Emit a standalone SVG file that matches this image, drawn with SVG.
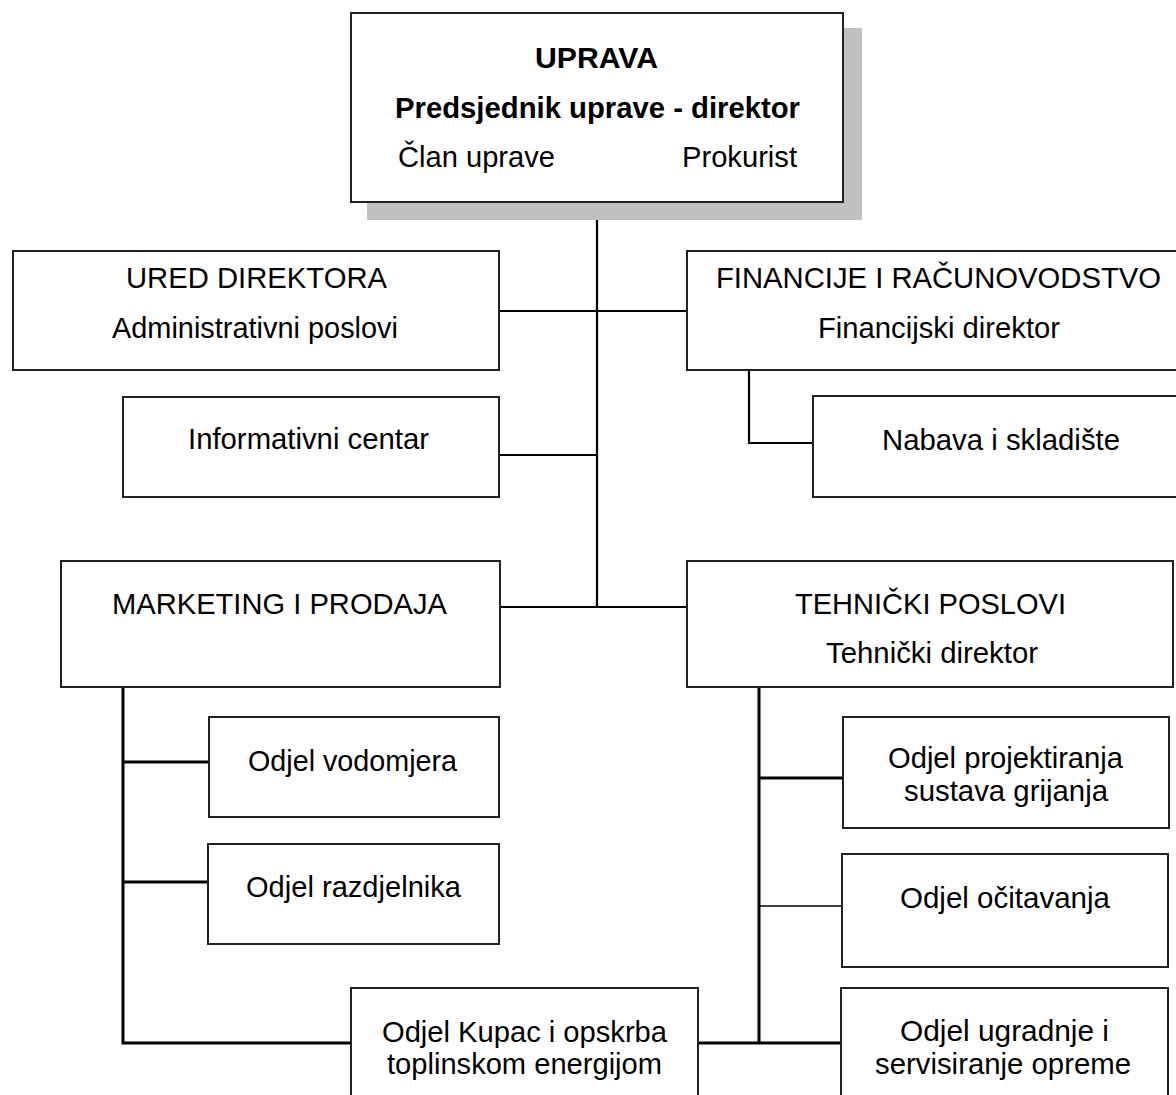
<svg xmlns="http://www.w3.org/2000/svg" width="1176" height="1095" viewBox="0 0 1176 1095">
<style>
.box{fill:#fff;stroke:#222;stroke-width:2}
.t{font-family:"Liberation Sans",Arial,sans-serif;font-size:29px;fill:#000}
.b{font-weight:bold}
.c{fill:none;stroke:#000;stroke-width:2.2}
.c3{fill:none;stroke:#000;stroke-width:3}
.thin{fill:none;stroke:#000;stroke-width:1.3}
</style>
<rect width="1176" height="1095" fill="#fff"/>
<g id="connectors">
<path class="c" d="M597 202 V607"/>
<path class="c" d="M499 311 H687"/>
<path class="c" d="M499 455 H597"/>
<path class="c" d="M500 607 H687"/>
<path class="c" d="M749 370 V443 H813"/>
<path class="c3" d="M123 687 V1043 H351"/>
<path class="c3" d="M123 762 H209"/>
<path class="c3" d="M123 882 H208"/>
<path class="c3" d="M759 687 V1043"/>
<path class="c3" d="M759 778 H843"/>
<path class="thin" d="M759 906 H842"/>
<path class="c3" d="M698 1043 H841"/>
</g>
<g id="uprava">
<rect x="367" y="28" width="495" height="192" fill="#c0c0c0"/>
<rect class="box" x="351" y="13" width="492" height="189"/>
<text class="t b" x="535" y="68" textLength="123" lengthAdjust="spacingAndGlyphs">UPRAVA</text>
<text class="t b" x="395" y="118" textLength="405" lengthAdjust="spacingAndGlyphs">Predsjednik uprave - direktor</text>
<text class="t" x="398" y="167" textLength="157" lengthAdjust="spacingAndGlyphs">Član uprave</text>
<text class="t" x="682" y="167" textLength="115" lengthAdjust="spacingAndGlyphs">Prokurist</text>
</g>
<g id="ured">
<rect class="box" x="13" y="251" width="486" height="119"/>
<text class="t" x="126" y="288" textLength="261" lengthAdjust="spacingAndGlyphs">URED DIREKTORA</text>
<text class="t" x="112" y="338" textLength="286" lengthAdjust="spacingAndGlyphs">Administrativni poslovi</text>
</g>
<g id="financije">
<rect class="box" x="687" y="251" width="504" height="119"/>
<text class="t" x="716" y="288" textLength="445" lengthAdjust="spacingAndGlyphs">FINANCIJE I RAČUNOVODSTVO</text>
<text class="t" x="818" y="338" textLength="242" lengthAdjust="spacingAndGlyphs">Financijski direktor</text>
</g>
<g id="informativni">
<rect class="box" x="123" y="397" width="376" height="100"/>
<text class="t" x="188" y="449" textLength="241" lengthAdjust="spacingAndGlyphs">Informativni centar</text>
</g>
<g id="nabava">
<rect class="box" x="813" y="396" width="376" height="101"/>
<text class="t" x="882" y="450" textLength="238" lengthAdjust="spacingAndGlyphs">Nabava i skladište</text>
</g>
<g id="marketing">
<rect class="box" x="61" y="561" width="439" height="126"/>
<text class="t" x="112" y="614" textLength="335" lengthAdjust="spacingAndGlyphs">MARKETING I PRODAJA</text>
</g>
<g id="tehnicki">
<rect class="box" x="687" y="561" width="486" height="126"/>
<text class="t" x="795" y="614" textLength="271" lengthAdjust="spacingAndGlyphs">TEHNIČKI POSLOVI</text>
<text class="t" x="826" y="663" textLength="212" lengthAdjust="spacingAndGlyphs">Tehnički direktor</text>
</g>
<g id="vodomjera">
<rect class="box" x="209" y="717" width="290" height="100"/>
<text class="t" x="248" y="771" textLength="209" lengthAdjust="spacingAndGlyphs">Odjel vodomjera</text>
</g>
<g id="projektiranja">
<rect class="box" x="843" y="717" width="326" height="111"/>
<text class="t" x="888" y="768" textLength="235" lengthAdjust="spacingAndGlyphs">Odjel projektiranja</text>
<text class="t" x="904" y="801" textLength="204" lengthAdjust="spacingAndGlyphs">sustava grijanja</text>
</g>
<g id="razdjelnika">
<rect class="box" x="208" y="844" width="291" height="100"/>
<text class="t" x="246" y="897" textLength="215" lengthAdjust="spacingAndGlyphs">Odjel razdjelnika</text>
</g>
<g id="ocitavanja">
<rect class="box" x="842" y="854" width="326" height="113"/>
<text class="t" x="900" y="908" textLength="210" lengthAdjust="spacingAndGlyphs">Odjel očitavanja</text>
</g>
<g id="kupac">
<rect class="box" x="351" y="988" width="347" height="120"/>
<text class="t" x="382" y="1042" textLength="285" lengthAdjust="spacingAndGlyphs">Odjel Kupac i opskrba</text>
<text class="t" x="387" y="1074" textLength="275" lengthAdjust="spacingAndGlyphs">toplinskom energijom</text>
</g>
<g id="ugradnje">
<rect class="box" x="841" y="988" width="327" height="120"/>
<text class="t" x="900" y="1041" textLength="209" lengthAdjust="spacingAndGlyphs">Odjel ugradnje i</text>
<text class="t" x="875" y="1074" textLength="256" lengthAdjust="spacingAndGlyphs">servisiranje opreme</text>
</g>
</svg>
